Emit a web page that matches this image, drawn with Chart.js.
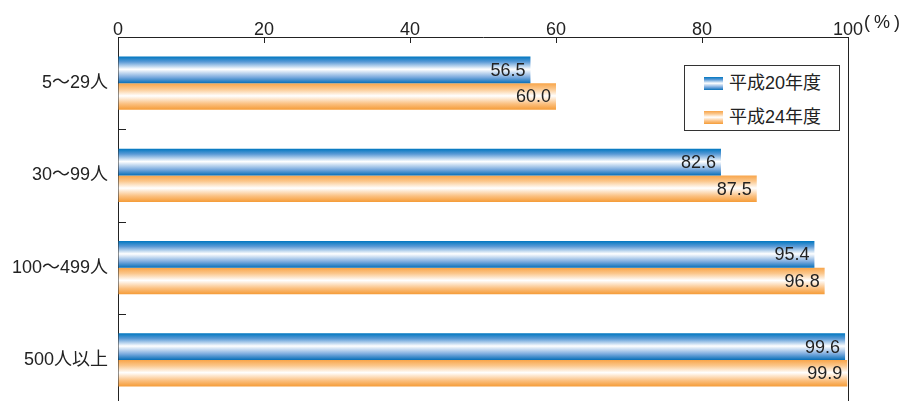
<!DOCTYPE html>
<html lang="ja">
<head>
<meta charset="utf-8">
<script src="https://cdn.jsdelivr.net/npm/chart.js@4/dist/chart.umd.min.js"></script>
<style>
  html, body { margin: 0; padding: 0; background: #fff; }
  #wrap { position: relative; width: 903px; height: 401px; overflow: hidden; }
  #chart { position: absolute; left: 0; top: 0; }
  #legend {
    position: absolute; left: 684px; top: 65px; width: 156px; height: 66px;
    border: 1px solid #333; box-sizing: border-box; background: #fff;
    font-family: "Liberation Sans", "Noto Sans CJK JP", sans-serif; font-size: 18px; color: #222;
  }
  .row { position: absolute; left: 19px; height: 20px; line-height: 20px; white-space: nowrap; }
  .sw { display: inline-block; width: 19px; height: 13px; vertical-align: middle; margin-right: 6px; position: relative; top: -1px; }
  .sw.b { background: linear-gradient(#0077c0 0%, #5a9ad6 20%, #ffffff 48%, #7aaade 78%, #0a70b8 100%); }
  .sw.o { background: linear-gradient(#f8a448 0%, #fbc78c 22%, #ffffff 48%, #fbc080 78%, #f59c38 100%); }
</style>
</head>
<body>
<div id="wrap">
  <canvas id="chart" width="903" height="410"></canvas>
  <div id="legend">
    <div class="row" style="top:7px"><span class="sw b"></span>平成20年度</div>
    <div class="row" style="top:41px"><span class="sw o"></span>平成24年度</div>
  </div>
</div>
<script>
// Share of establishments by size (percent), two survey years
const categories = ['5〜29人', '30〜99人', '100〜499人', '500人以上'];
const seriesNames = ['平成20年度', '平成24年度'];
const valuesH20 = [56.5, 82.6, 95.4, 99.6];
const valuesH24 = [60.0, 87.5, 96.8, 99.9];
const xTickValues = [0, 20, 40, 60, 80, 100];
const unitLabel = '(%)';

const FONT = '"Liberation Sans", "Noto Sans CJK JP", sans-serif';
const INK = '#222';
const CAT_PCT = 0.576;

const gradientStops = [
  [[0, '#0077c0'], [0.2, '#5a9ad6'], [0.48, '#ffffff'], [0.78, '#7aaade'], [1, '#0a70b8']],
  [[0, '#f8a448'], [0.22, '#fbc78c'], [0.48, '#ffffff'], [0.78, '#fbc080'], [1, '#f59c38']]
];
const flatColors = ['#0077c0', '#f8a448'];

// Vertical "cylinder" shading for each bar, placed from the category scale
function barFill(c) {
  const chart = c.chart;
  const ys = chart.scales && chart.scales.y;
  if (!chart.chartArea || !ys || c.type !== 'data') return flatColors[c.datasetIndex];
  const center = ys.getPixelForValue(c.dataIndex);
  const band = ys.height / categories.length;
  const t = band * CAT_PCT / 2;
  const top = c.datasetIndex === 0 ? center - t : center;
  const g = chart.ctx.createLinearGradient(0, top, 0, top + t);
  gradientStops[c.datasetIndex].forEach(s => g.addColorStop(s[0], s[1]));
  return g;
}

const decorations = {
  id: 'decorations',
  afterDatasetsDraw(chart) {
    const ctx = chart.ctx;
    const xs = chart.scales.x, ys = chart.scales.y;
    const area = chart.chartArea;
    ctx.save();
    // value labels at the bar ends
    ctx.font = '18px ' + FONT;
    ctx.fillStyle = INK;
    ctx.textAlign = 'right';
    ctx.textBaseline = 'middle';
    chart.data.datasets.forEach((ds, di) => {
      chart.getDatasetMeta(di).data.forEach((bar, i) => {
        ctx.fillText(ds.data[i].toFixed(1), bar.x - 5, bar.y + 1);
      });
    });
    // inner tick marks on the value axis
    ctx.strokeStyle = INK;
    ctx.lineWidth = 1;
    ctx.beginPath();
    xTickValues.slice(1, -1).forEach(v => {
      const px = Math.round(xs.getPixelForValue(v)) + 0.5;
      ctx.moveTo(px, area.top);
      ctx.lineTo(px, area.top + 6);
    });
    // category separators on the left axis
    for (let i = 0; i < categories.length - 1; i++) {
      const py = Math.round((ys.getPixelForValue(i) + ys.getPixelForValue(i + 1)) / 2) + 0.5;
      ctx.moveTo(area.left, py);
      ctx.lineTo(area.left + 8, py);
    }
    ctx.stroke();
    // unit after the last tick
    ctx.font = '18px ' + FONT;
    ctx.textAlign = 'left';
    ctx.textBaseline = 'middle';
    ctx.letterSpacing = '4px';
    ctx.fillText(unitLabel, xs.getPixelForValue(100) + 16, 23);
    ctx.restore();
  }
};

new Chart(document.getElementById('chart'), {
  type: 'bar',
  data: {
    labels: categories,
    datasets: [
      { label: seriesNames[0], data: valuesH20, backgroundColor: barFill, borderWidth: 0 },
      { label: seriesNames[1], data: valuesH24, backgroundColor: barFill, borderWidth: 0 }
    ]
  },
  options: {
    indexAxis: 'y',
    responsive: false,
    animation: false,
    devicePixelRatio: 1,
    layout: { padding: { left: 0, right: 55, top: 0, bottom: 4 } },
    datasets: { bar: { categoryPercentage: CAT_PCT, barPercentage: 1 } },
    plugins: { legend: { display: false }, tooltip: { enabled: false } },
    scales: {
      x: {
        type: 'linear',
        position: 'top',
        min: 0,
        max: 100,
        afterBuildTicks: s => { s.ticks = xTickValues.map(v => ({ value: v })); },
        afterFit: s => { s.height = 37; s.paddingLeft = 0; s.paddingRight = 0; },
        ticks: { color: INK, font: { family: FONT, size: 18, lineHeight: 1.2 }, padding: -4 },
        grid: {
          drawTicks: false,
          tickLength: 0,
          color: c => (c.tick && c.tick.value === 100 ? INK : 'rgba(0,0,0,0)'),
          lineWidth: 1
        },
        border: { display: true, color: INK, width: 1 }
      },
      y: {
        type: 'category',
        afterFit: s => { s.width = 118; s.paddingTop = 0; s.paddingBottom = 0; },
        ticks: { color: INK, font: { family: FONT, size: 18 }, padding: 10 },
        grid: { display: false, drawTicks: false, tickLength: 0 },
        border: { display: true, color: INK, width: 1 }
      }
    }
  },
  plugins: [decorations]
});
</script>
</body>
</html>
